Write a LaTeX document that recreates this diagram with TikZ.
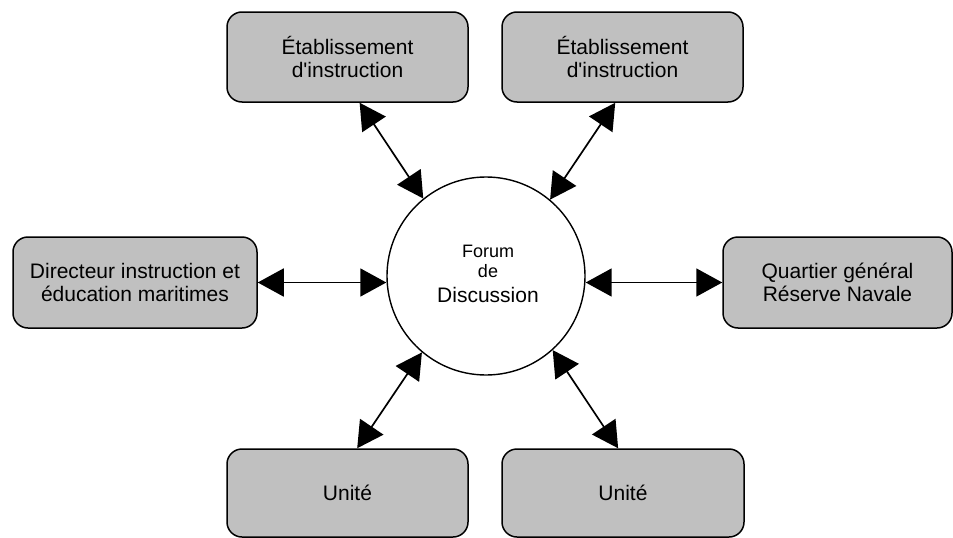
\documentclass[tikz,border=0pt]{standalone}
\usepackage{fontspec}
\setmainfont{Liberation Sans}
\usetikzlibrary{arrows.meta,calc}
\definecolor{boxgray}{HTML}{C0C0C0}
\tikzset{
  unitbox/.style={draw=black, line width=1.5pt, fill=boxgray, rounded corners=15pt,
    inner sep=0pt, align=center, font=\fontsize{21}{23}\selectfont},
  forum/.style={draw=black, line width=1.4pt, circle, inner sep=0pt, minimum size=198pt},
  link/.style={line width=1.7pt, {Triangle[length=26pt,width=28pt]}-{Triangle[length=26pt,width=28pt]}}
}
\begin{document}
\begin{tikzpicture}[x=1pt,y=-1pt]
\useasboundingbox (0,0) rectangle (953,538);
\node[unitbox, minimum width=241pt, minimum height=90pt] (tl) at (347.5,57) {Établissement\\d\textquotesingle instruction};
\node[unitbox, minimum width=241pt, minimum height=90pt] (tr) at (622.5,57) {Établissement\\d\textquotesingle instruction};
\node[unitbox, minimum width=244pt, minimum height=91pt] (l) at (135,282.5) {Directeur instruction et\\éducation maritimes};
\node[unitbox, minimum width=229pt, minimum height=91pt] (r) at (837.5,282.5) {Quartier général\\Réserve Navale};
\node[unitbox, minimum width=241pt, minimum height=88pt] (bl) at (347.5,493) {Unité};
\node[unitbox, minimum width=242pt, minimum height=88pt] (br) at (623,493) {Unité};
\node[forum] (c) at (486,276) {};
\node[align=center, inner sep=0pt, font=\fontsize{18}{20}\selectfont] (ct) at (488,274)
  {Forum\\de\\[5pt]{\fontsize{21}{25}\selectfont Discussion}};
\draw[link] ($(tl.south west)!0.55!(tl.south east)$) -- (c.129);
\draw[link] ($(tr.south west)!0.47!(tr.south east)$) -- (c.50);
\draw[link] (l.east) -- (l.east -| c.west);
\draw[link] (r.west) -- (r.west -| c.east);
\draw[link] ($(bl.north west)!0.54!(bl.north east)$) -- (c.230);
\draw[link] ($(br.north west)!0.48!(br.north east)$) -- (c.312);
\end{tikzpicture}
\end{document}
